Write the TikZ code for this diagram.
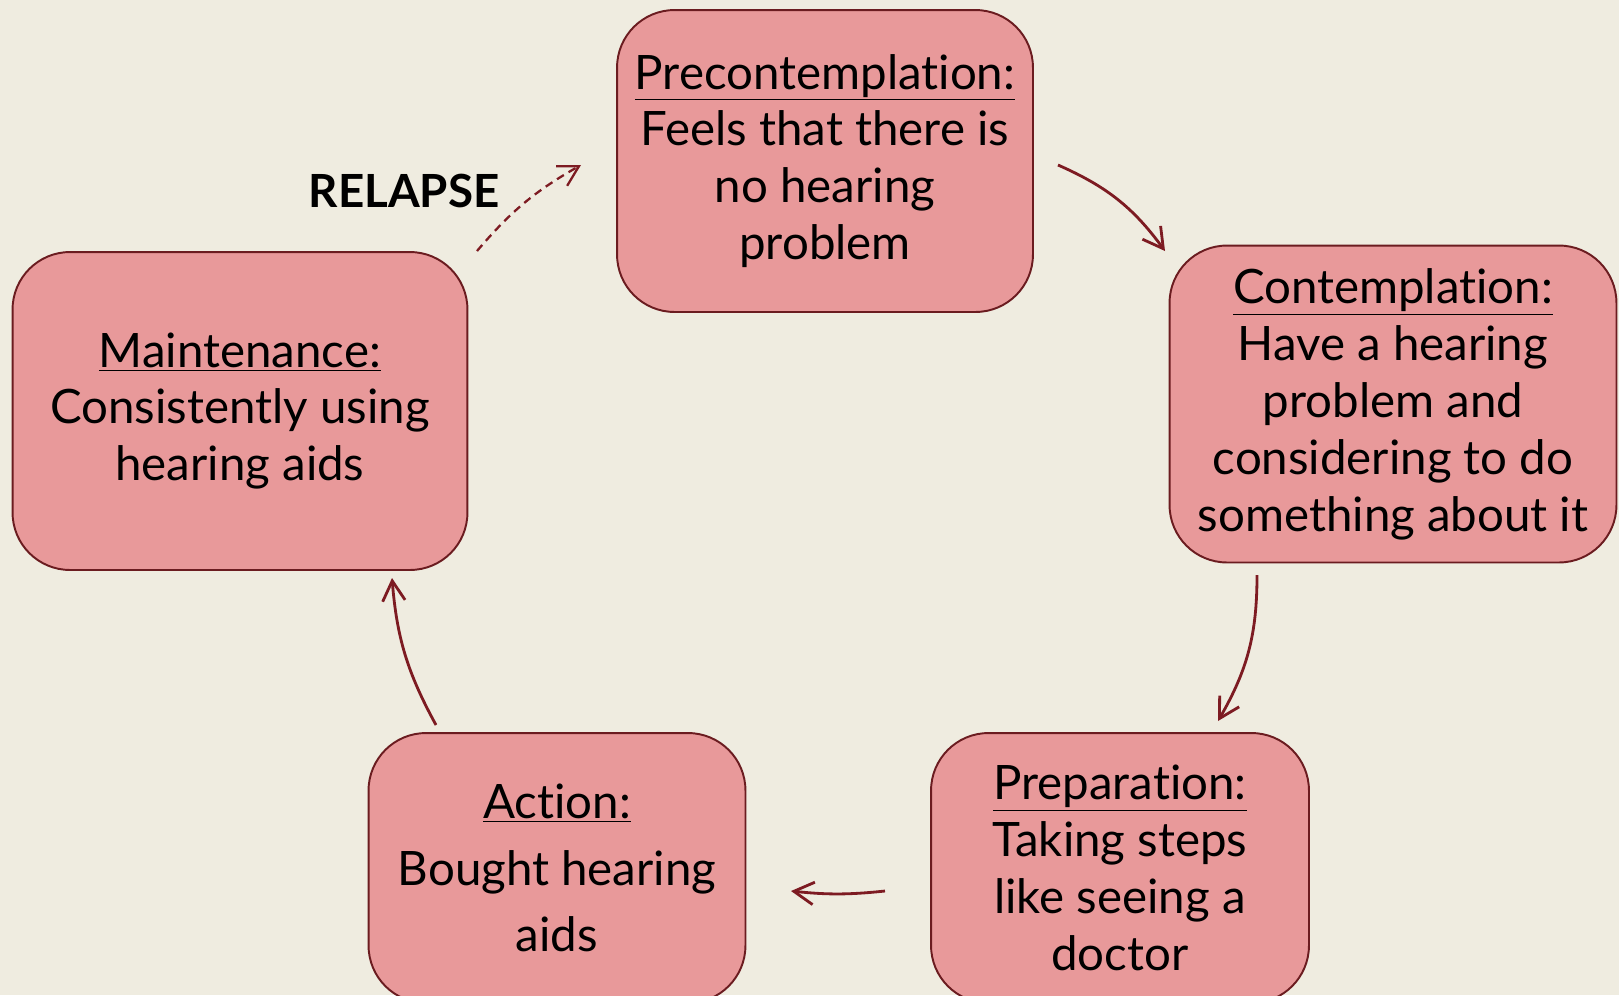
\documentclass[tikz,border=0pt]{standalone}
\usepackage{fontspec}
\setmainfont{Lato}[RawFeature={-liga;-clig;-calt;-dlig;-hlig}]
\usepackage{xcolor}
\definecolor{clPaper}{HTML}{EFECE0}
\definecolor{clStage}{HTML}{E8999A}
\definecolor{clEdge}{HTML}{6B1C20}
\definecolor{clArrow}{HTML}{7D1B22}
\usetikzlibrary{arrows.meta,calc}
\tikzset{
  stage/.style={rectangle, rounded corners=1.15cm, draw=clEdge, fill=clStage,
                line width=1.1pt, align=center, inner sep=4pt, text=black,
                font=\fontsize{27}{32.4}\selectfont},
  stepflow/.style={-{Straight Barb[length=4mm,width=4.5mm]}, line width=1.6pt, draw=clArrow},
  relapseflow/.style={stepflow, line width=1.3pt, dash pattern=on 1.6mm off 1.1mm},
}

\begin{document}
\begin{tikzpicture}[x=0.02cm, y=-0.02cm]
  \fill[clPaper] (0,0) rectangle (1619,995);
  \useasboundingbox (0,0) rectangle (1619,995);

  \node[stage, minimum width=8.32cm, minimum height=6.04cm] (pre) at (825,161)
    {\underline{Precontemplation:}\\Feels that there is\\no hearing\\problem};
  \node[stage, minimum width=8.94cm, minimum height=6.34cm] (con) at (1393,404)
    {\underline{Contemplation:}\\Have a hearing\\problem and\\considering to do\\something about it};
  \node[stage, minimum width=7.56cm, minimum height=5.4cm] (prep) at (1120,868)
    {\underline{Preparation:}\\Taking steps\\like seeing a\\doctor};
  \node[stage, minimum width=7.54cm, minimum height=5.4cm,
        font=\fontsize{27}{38}\selectfont] (act) at (557,868)
    {\underline{Action:}\\Bought hearing\\aids};
  \node[stage, minimum width=9.1cm, minimum height=6.36cm] (mai) at (240,411)
    {\underline{Maintenance:}\\Consistently using\\hearing aids};

  \node[font=\fontsize{26}{30}\selectfont\bfseries] (rel) at (404,191) {RELAPSE};

  % loose ends of the arrows
  \coordinate (preOut) at (1058,165);
  \coordinate (conIn) at (1165,251);
  \coordinate (conOut) at (1257,575);
  \coordinate (prepIn) at (1218,721);
  \coordinate (prepOut) at (885,891);
  \coordinate (actIn) at (791,891);
  \coordinate (actOut) at (436,725);
  \coordinate (maiIn) at (392,578);
  \coordinate (maiOut) at (477,251);
  \coordinate (preIn) at (581,165);

  \draw[stepflow] (preOut) to[bend left=15] (conIn);
  \draw[stepflow] (conOut) to[bend left=15] (prepIn);
  \draw[stepflow] (prepOut) to[bend left=6] (actIn);
  \draw[stepflow] (actOut) to[bend left=12] (maiIn);
  \draw[relapseflow] (maiOut) to[bend left=10] (preIn);
\end{tikzpicture}
\end{document}
